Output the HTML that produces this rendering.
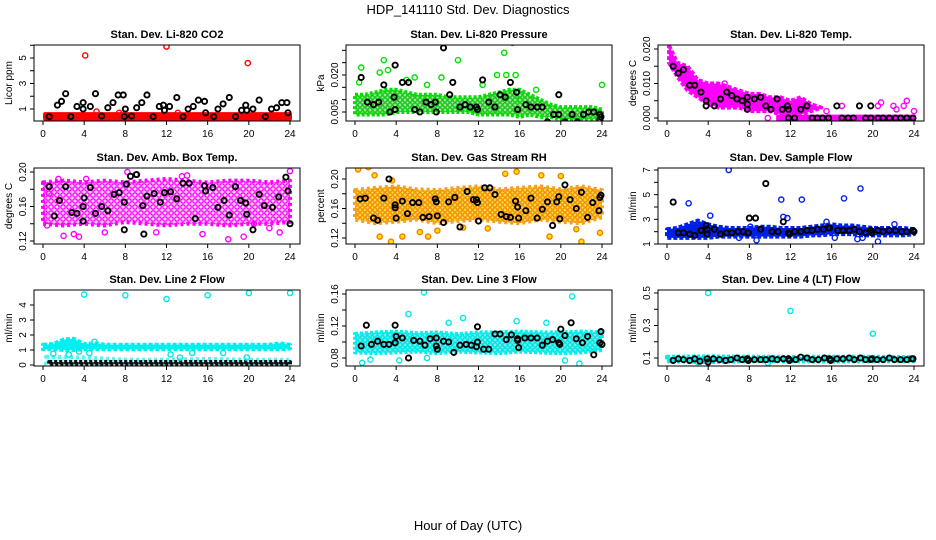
<!DOCTYPE html>
<html><head><meta charset="utf-8"><style>
html,body{margin:0;padding:0;background:#fff;}
svg{display:block;font-family:"Liberation Sans",sans-serif;}
</style></head><body>
<svg id="chart" width="936" height="540" viewBox="0 0 936 540" xmlns="http://www.w3.org/2000/svg">
<defs>
<pattern id="pat-green" width="5" height="5" patternUnits="userSpaceOnUse"><rect width="5" height="5" fill="#9ef09e"/><circle cx="2.5" cy="2.5" r="1.8" fill="none" stroke="#10c010" stroke-width="1.3"/></pattern>
<pattern id="pat-mag" width="6" height="6" patternUnits="userSpaceOnUse"><rect width="6" height="6" fill="#fbd0fb"/><circle cx="3" cy="3" r="2.2" fill="none" stroke="#f0f" stroke-width="1.3"/></pattern>
<pattern id="pat-org" width="5" height="5" patternUnits="userSpaceOnUse"><rect width="5" height="5" fill="#ffe040"/><circle cx="2.5" cy="2.5" r="1.8" fill="none" stroke="#f08000" stroke-width="1.2"/></pattern>
<pattern id="pat-cyan" width="5" height="5" patternUnits="userSpaceOnUse"><rect width="5" height="5" fill="#70f4f4"/><circle cx="2.5" cy="2.5" r="1.8" fill="none" stroke="#00e0e0" stroke-width="1.3"/></pattern>
</defs>
<text x="468" y="14" text-anchor="middle" font-size="13">HDP_141110  Std. Dev. Diagnostics</text>
<text x="468" y="530" text-anchor="middle" font-size="13">Hour of Day (UTC)</text>
</svg>
<script>
const xTickLabels=[0,4,8,12,16,20,24];
// Panel 1 CO2
const co2BandHours=[0.2,24];const co2BandLow=[0.25,0.25];const co2BandHigh=[0.6,0.6];
const co2BlackX=[0.6,1.4,1.8,2.2,2.7,3.3,3.9,3.9,4.6,5.1,5.7,6.3,6.8,7.3,7.8,7.9,8.0,8.6,9.1,9.6,10.1,10.7,11.3,11.7,11.8,12.3,13.0,13.6,14.1,14.6,15.1,15.7,15.8,16.6,17.0,17.5,18.1,18.7,19.3,19.7,19.8,20.4,21.0,21.6,22.2,22.7,23.2,23.7,23.8];
const co2BlackY=[0.4,1.3,1.6,2.2,0.4,1.2,1.5,1.0,1.2,2.2,0.45,1.1,1.5,2.1,2.1,0.4,1.0,0.45,1.1,1.5,2.1,0.4,1.2,1.3,0.9,1.2,1.9,0.4,1.0,1.2,1.7,1.6,0.7,0.4,1.0,1.4,1.9,0.4,0.9,1.3,0.9,1.0,1.7,0.4,1.0,1.1,1.5,1.5,0.7];
const co2RedX=[4.1,12.0,19.9,5.2,7.4,13.1];const co2RedY=[5.2,5.9,4.6,0.8,0.7,0.7];
// Panel 2 pressure
const presBandHours=[0,1,2,3,4,5,6,7,8,9,10,11,12,13,14,15,16,17,18,19,20,21,22,23,24];
const presBandLow=[0.004,0.004,0.004,0.004,0.005,0.005,0.005,0.005,0.005,0.005,0.005,0.005,0.004,0.004,0.004,0.004,0.003,0.004,0.003,0.003,0.002,0.002,0.002,0.002,0.003];
const presBandHigh=[0.012,0.012,0.013,0.014,0.014,0.013,0.012,0.012,0.012,0.011,0.011,0.011,0.011,0.012,0.013,0.014,0.014,0.012,0.010,0.008,0.007,0.007,0.007,0.007,0.006];
const presGreenX=[0.4,0.6,2.8,2.4,3.2,5.8,8.4,10.0,12.4,13.8,14.5,14.7,15.3,15.6,16.0,24.0,17.6,7.0,5.0];
const presGreenY=[0.017,0.023,0.026,0.021,0.022,0.019,0.019,0.026,0.016,0.02,0.029,0.02,0.033,0.02,0.01,0.016,0.014,0.016,0.018];
const presBlackX=[0.6,1.2,1.8,2.3,2.8,3.4,3.9,3.8,3.9,4.6,5.2,5.8,6.3,6.9,7.4,7.8,7.9,8.6,9.2,9.5,10.2,10.7,11.2,11.8,11.9,12.4,13.0,13.6,14.1,14.6,15.1,15.7,15.8,16.6,17.1,17.7,18.2,18.7,19.3,19.8,19.8,20.4,21.1,21.6,22.2,22.7,23.2,23.8,23.9,23.8];
const presBlackY=[0.019,0.009,0.008,0.009,0.016,0.005,0.024,0.011,0.006,0.017,0.017,0.006,0.005,0.009,0.008,0.009,0.005,0.031,0.012,0.017,0.007,0.008,0.007,0.007,0.006,0.018,0.009,0.007,0.012,0.011,0.017,0.013,0.006,0.008,0.007,0.007,0.007,0.001,0.004,0.004,0.012,0.001,0.004,0.001,0.004,0.005,0.005,0.004,0.003,0.002];
// Panel 3 temp
const tempBandHours=[0.2,1,2,3,4,5,6,7,8,9,10,11,12,13,14,15];
const tempBandLow=[0.016,0.012,0.008,0.006,0.004,0.003,0.003,0.003,0.002,0.002,0.002,0.001,0.001,0.001,0.002,0.003];
const tempBandHigh=[0.021,0.016,0.015,0.011,0.010,0.010,0.009,0.008,0.007,0.007,0.006,0.006,0.005,0.006,0.004,0.003];
const tempZeroHours=[10.8,24];const tempZeroLow=[-0.0004,-0.0004];const tempZeroHigh=[0.0004,0.0004];
const tempMagX=[9.8,17.0,20.5,20.8,22.0,22.3,23.3,23.0,24.0,15.5,5.6];const tempMagY=[0,0.0035,0.0035,0.0045,0.0035,0.0025,0.005,0.0035,0.002,0.002,0.01];
const tempBlackX=[0.6,1.1,1.6,2.2,2.7,3.3,3.8,3.8,4.6,5.2,5.8,6.3,6.8,7.3,7.8,7.8,7.8,8.5,9.1,9.6,10.1,10.7,11.2,11.7,11.8,11.8,12.4,13.0,13.6,14.1,14.6,15.1,15.7,16.5,17.0,17.6,18.1,18.7,19.3,19.8,19.8,20.5,21.0,21.6,22.2,22.7,23.3,23.9];
const tempBlackY=[0.015,0.013,0.014,0.0095,0.0095,0.0075,0.005,0.0035,0.0035,0.0055,0.0075,0.0065,0.0055,0.005,0.006,0.004,0.0025,0.0055,0.006,0.0035,0.0025,0.0055,0.0025,0.0035,0.0025,0,0,0.0025,0.0035,0,0,0,0,0.0035,0,0,0,0.0035,0,0.0035,0,0,0,0,0,0,0,0];
// Panel 4 amb box temp
const ambBandHours=[0,2,4,6,8,10,12,14,16,18,20,22,24];
const ambBandLow=[0.14,0.138,0.14,0.138,0.142,0.14,0.138,0.14,0.14,0.138,0.14,0.14,0.142];
const ambBandHigh=[0.188,0.19,0.188,0.19,0.188,0.19,0.192,0.19,0.188,0.19,0.19,0.188,0.19];
const ambMagX=[0.4,0.6,3.0,2.0,3.5,6.0,8.2,11.0,13.5,15.5,18.0,19.5,20.5,23.0,24.0,4.2,9.0,14.0,22.0,1.5];
const ambMagY=[0.138,0.175,0.128,0.126,0.125,0.13,0.2,0.13,0.195,0.128,0.122,0.125,0.14,0.13,0.201,0.192,0.197,0.196,0.135,0.192];
const ambBlackX=[0.6,1.1,1.6,2.2,2.8,3.3,3.9,4.0,3.9,4.6,5.1,5.7,6.3,6.9,7.4,7.9,7.9,8.1,8.5,9.1,9.7,9.8,10.1,10.8,11.4,11.8,12.4,13.0,13.6,14.2,14.8,15.7,15.8,16.5,17.0,17.6,18.1,18.7,19.2,19.7,19.8,20.4,21.0,21.5,22.3,22.9,23.6,23.8,24.0];
const ambBlackY=[0.183,0.149,0.167,0.183,0.153,0.152,0.143,0.17,0.16,0.182,0.152,0.16,0.155,0.174,0.176,0.133,0.165,0.186,0.195,0.197,0.161,0.128,0.172,0.175,0.165,0.176,0.177,0.169,0.187,0.187,0.146,0.184,0.178,0.182,0.159,0.167,0.15,0.183,0.167,0.164,0.151,0.133,0.174,0.161,0.159,0.171,0.194,0.178,0.14];
// Panel 5 RH
const rhBandHours=[0,2,4,6,8,10,12,14,16,18,20,22,24];
const rhBandLow=[0.145,0.14,0.142,0.145,0.14,0.143,0.145,0.142,0.14,0.145,0.142,0.14,0.148];
const rhBandHigh=[0.185,0.188,0.19,0.186,0.185,0.188,0.19,0.186,0.188,0.19,0.186,0.19,0.185];
const rhOrgX=[0.3,1.3,1.9,3.5,4.6,6.3,8.0,10.5,14.6,15.7,18.1,18.9,20.0,21.5,22.0,23.8,2.4,12.9,3.6,7.1];
const rhOrgY=[0.213,0.216,0.205,0.115,0.122,0.128,0.13,0.134,0.207,0.21,0.205,0.122,0.204,0.132,0.115,0.127,0.122,0.133,0.198,0.122];
const rhBlackX=[0.5,1.0,1.8,2.2,2.8,3.3,3.9,3.9,4.0,4.6,5.1,5.6,6.2,6.6,7.2,7.8,7.9,8.0,8.6,9.1,9.7,10.2,10.9,11.5,11.8,11.9,12.0,12.6,13.1,13.6,14.2,14.7,15.1,15.6,15.8,15.9,16.6,17.1,17.7,18.2,18.7,19.2,19.6,19.8,19.9,20.4,20.9,21.5,22.0,22.6,23.1,23.7,23.8,23.9];
const rhBlackY=[0.173,0.174,0.147,0.144,0.174,0.2,0.165,0.161,0.147,0.17,0.153,0.168,0.168,0.148,0.149,0.173,0.169,0.15,0.141,0.169,0.175,0.135,0.183,0.172,0.172,0.168,0.143,0.188,0.188,0.179,0.152,0.149,0.148,0.17,0.162,0.147,0.157,0.174,0.147,0.159,0.169,0.137,0.169,0.176,0.146,0.192,0.172,0.16,0.182,0.148,0.168,0.157,0.175,0.178];
// Panel 6 sample flow
const sfBandHours=[0,1,2,3,4,5,6,7,8,9,10,11,12,13,14,15,16,17,18,19,20,21,22,23,24];
const sfBandLow=[1.5,1.5,1.5,1.5,1.5,1.6,1.6,1.6,1.6,1.6,1.6,1.6,1.6,1.6,1.7,1.7,1.8,1.8,1.8,1.7,1.7,1.7,1.7,1.7,1.8];
const sfBandHigh=[2.2,2.3,2.6,2.9,2.6,2.4,2.3,2.3,2.3,2.4,2.4,2.3,2.3,2.3,2.4,2.5,2.6,2.5,2.5,2.4,2.3,2.3,2.3,2.3,2.2];
const sfBlueX=[2.1,4.2,6.0,8.1,8.7,11.1,11.3,11.7,13.1,17.2,18.8,20.5,22.1,19.0,7.0,15.5,16.3,18.5];
const sfBlueY=[4.3,3.3,7.0,2.4,1.3,4.6,3.2,3.1,4.6,4.7,5.5,1.2,2.6,1.5,1.5,2.8,1.5,1.4];
const sfBlackX=[0.6,1.1,1.6,2.2,2.7,3.3,3.8,3.9,3.9,4.6,5.2,5.8,6.3,6.9,7.4,7.9,8.0,8.6,9.1,9.6,10.2,10.8,11.3,11.8,11.9,12.4,13.0,13.6,14.1,14.6,15.2,15.7,15.8,16.6,17.1,17.7,18.2,18.7,19.3,19.8,19.9,20.5,21.0,21.6,22.2,22.8,23.3,23.9,24.0];
const sfBlackY=[4.4,1.9,1.9,1.8,1.7,2.1,2.5,2.2,1.8,2.2,1.8,1.9,1.9,2.0,2.0,1.9,3.1,3.1,2.2,5.9,2.0,2.0,2.8,1.9,1.8,2.0,2.0,2.1,2.1,2.2,2.2,2.3,2.3,2.1,2.1,2.1,2.2,2.0,1.9,2.1,1.9,2.1,2.0,2.1,2.1,2.0,2.0,2.1,2.0];
// Panel 7 line 2 flow
const l2BandHours=[0,1,2,3,4,5,6,8,10,12,14,16,18,20,22,23,24];
const l2BandLow=[1.05,1.05,1.0,1.0,1.05,1.05,1.05,1.05,1.05,1.05,1.05,1.05,1.05,1.05,1.05,1.05,1.1];
const l2BandHigh=[1.35,1.4,1.7,1.75,1.4,1.45,1.35,1.35,1.35,1.35,1.35,1.35,1.35,1.35,1.35,1.45,1.35];
const l2LowBandHours=[0.3,4,8,12,16,20,24];const l2LowBandLow=[0.05,0.05,0.05,0.05,0.05,0.05,0.05];const l2LowBandHigh=[0.55,0.5,0.35,0.35,0.4,0.35,0.35];
const l2BlackBandHours=[0.6,24];const l2BlackBandLow=[0.04,0.04];const l2BlackBandHigh=[0.2,0.2];
const l2CyanX=[4.0,8.0,12.0,16.0,20.0,24.0,1.0,2.5,3.5,4.5,5.0,13.3,14.5,17.5,19.8,12.4];
const l2CyanY=[4.7,4.65,4.4,4.65,4.8,4.8,0.75,0.7,0.9,0.8,1.55,0.5,0.8,0.8,0.5,0.7];
// Panel 8 line 3 flow
const l3BandHours=[0,2,4,6,8,10,12,14,16,18,20,22,24];
const l3BandLow=[0.087,0.086,0.087,0.088,0.086,0.088,0.087,0.086,0.088,0.087,0.086,0.087,0.09];
const l3BandHigh=[0.11,0.112,0.113,0.111,0.112,0.11,0.112,0.112,0.113,0.112,0.112,0.113,0.112];
const l3CyanX=[0.7,1.5,5.2,6.7,10.5,15.7,18.6,21.1,21.8,4.3,9.1,7.0,20.4];
const l3CyanY=[0.074,0.078,0.135,0.162,0.13,0.126,0.124,0.157,0.073,0.077,0.124,0.08,0.077];
const l3BlackX=[0.6,1.1,1.6,2.2,2.8,3.3,3.9,3.9,4.0,4.6,5.2,5.7,6.3,6.8,7.3,7.9,7.9,8.0,8.6,9.1,9.6,10.2,10.8,11.3,11.8,11.9,11.9,12.5,13.0,13.6,14.1,14.7,15.2,15.8,15.8,15.9,16.5,17.1,17.7,18.2,18.7,19.2,19.8,19.9,20.0,20.4,21.0,21.5,22.1,22.6,23.2,23.8,23.9,24.0];
const l3BlackY=[0.095,0.121,0.097,0.101,0.097,0.097,0.099,0.121,0.107,0.105,0.08,0.102,0.101,0.096,0.104,0.105,0.095,0.091,0.101,0.1,0.087,0.096,0.097,0.096,0.094,0.119,0.1,0.091,0.091,0.11,0.11,0.103,0.109,0.102,0.104,0.093,0.105,0.105,0.105,0.096,0.101,0.103,0.099,0.097,0.116,0.108,0.124,0.104,0.099,0.107,0.084,0.099,0.113,0.097];
// Panel 9 line 4 flow
const l4BandHours=[0,4,8,12,16,20,24];const l4BandLow=[0.08,0.075,0.08,0.08,0.078,0.08,0.08];const l4BandHigh=[0.108,0.11,0.108,0.107,0.108,0.108,0.105];
const l4CyanX=[4.0,12.0,20.0,3.0,9.8];const l4CyanY=[0.5,0.39,0.25,0.075,0.07];
const l4BlackX=[0.6,1.1,1.6,2.2,2.7,3.2,3.9,4.0,4.5,5.1,5.7,6.2,6.8,7.3,7.8,7.9,8.5,9.1,9.6,10.2,10.7,11.3,11.8,11.9,12.5,13.0,13.6,14.1,14.7,15.3,15.8,15.9,16.5,17.1,17.7,18.2,18.8,19.3,19.8,19.9,20.4,21.0,21.6,22.1,22.7,23.3,23.8,23.9];
const l4BlackY=[0.085,0.095,0.09,0.085,0.095,0.08,0.095,0.075,0.095,0.09,0.085,0.09,0.1,0.09,0.095,0.085,0.09,0.09,0.09,0.095,0.09,0.095,0.095,0.085,0.09,0.105,0.1,0.09,0.09,0.1,0.095,0.085,0.095,0.095,0.1,0.09,0.1,0.09,0.09,0.095,0.09,0.09,0.1,0.09,0.09,0.09,0.095,0.095];

const NS='http://www.w3.org/2000/svg';
const svg=document.getElementById('chart');
function mk(tag,attrs,parent){const e=document.createElementNS(NS,tag);for(const k in attrs)e.setAttribute(k,attrs[k]);(parent||svg).appendChild(e);return e;}
function panel(cfg){
  const g=mk('g',{});
  
  
  const L=cfg.box[0],T=cfg.box[1],R=cfg.box[2],B=cfg.box[3];
  const xs=v=>L+9+(R-L-19)*v/24;
  const ys=v=>cfg.ya[1]+(v-cfg.ya[0])*(cfg.yb[1]-cfg.ya[1])/(cfg.yb[0]-cfg.ya[0]);
  const clip='c'+cfg.name;
  const cp=mk('clipPath',{id:clip},g);mk('rect',{x:L,y:T,width:R-L,height:B-T},cp);
  const plot=mk('g',{'clip-path':'url(#'+clip+')'},g);
  cfg.bands.forEach(b=>{
    let pts=b.h.map((h,i)=>xs(h)+','+ys(b.hi[i]));
    pts=pts.concat(b.h.map((h,i)=>xs(h)+','+ys(b.lo[i])).reverse());
    const p=mk('polygon',{points:pts.join(' '),fill:b.fill,stroke:b.stroke,'stroke-width':4,'stroke-linejoin':'round','stroke-dasharray':b.dash||'none'},plot);
    
    
  });
  cfg.pts.forEach(s=>{
    s.x.forEach((x,i)=>{
      const c=mk('circle',{cx:xs(x),cy:ys(s.y[i]),r:2.6,fill:s.fill||'none',stroke:s.color,'stroke-width':s.color==='#000'?1.9:1.4},plot);
      
      
    });
  });
  const box=mk('rect',{x:L,y:T,width:R-L,height:B-T,fill:'none',stroke:'#000','stroke-width':1},g);
  
  
  xTickLabels.forEach(t=>{
    const x=xs(t);mk('line',{x1:x,y1:B,x2:x,y2:B+4,stroke:'#000'},g);
    const tx=mk('text',{x:x,y:B+16,'text-anchor':'middle','font-size':10},g);tx.textContent=t;
    
    
  });
  cfg.yt.forEach(t=>{const y=ys(t);mk('line',{x1:L-4,y1:y,x2:L,y2:y,stroke:'#000'},g);});
  cfg.yl.forEach(t=>{
    const y=ys(t);const tx=mk('text',{x:L-8,y:y,'text-anchor':'middle','font-size':10,transform:'rotate(-90 '+(L-8)+' '+y+')'},g);
    tx.textContent=t;
    
    
  });
  const tt=mk('text',{x:(L+R)/2,y:T-7,'text-anchor':'middle','font-size':11,'font-weight':'bold'},g);tt.textContent=cfg.title;
  
  
  const yc=(T+B)/2;const yt=mk('text',{x:L-22,y:yc,'text-anchor':'middle','font-size':10,transform:'rotate(-90 '+(L-22)+' '+yc+')'},g);yt.textContent=cfg.ylab;
  
  
}
const C1=[34,300],C2=[346,612],C3=[658,924],R1=[45,121],R2=[168,244],R3=[290,366];
const bx=(c,r)=>[c[0],r[0],c[1],r[1]];
const K='#000';
panel({name:'panel-co2',title:'Stan. Dev. Li-820 CO2',ylab:'Licor ppm',box:bx(C1,R1),ya:[1,109],yb:[5,58],yt:[1,2,3,4,5,6],yl:['1','3','5'],
 bands:[{h:co2BandHours,lo:co2BandLow,hi:co2BandHigh,fill:'#f00',stroke:'#f00'}],
 pts:[{x:co2BlackX,y:co2BlackY,color:K},{x:co2RedX,y:co2RedY,color:'#f00'}]});
panel({name:'panel-pressure',title:'Stan. Dev. Li-820 Pressure',ylab:'kPa',box:bx(C2,R1),ya:[0.005,112],yb:[0.020,75],yt:[0.005,0.010,0.015,0.020,0.025,0.030],yl:['0.005','0.020'],
 bands:[{h:presBandHours,lo:presBandLow,hi:presBandHigh,fill:'url(#pat-green)',stroke:'#00e000',dash:'3 2'}],
 pts:[{x:presGreenX,y:presGreenY,color:'#00e000'},{x:presBlackX,y:presBlackY,color:K}]});
panel({name:'panel-temp',title:'Stan. Dev. Li-820 Temp.',ylab:'degrees C',box:bx(C3,R1),ya:[0,118],yb:[0.020,49],yt:[0,0.005,0.010,0.015,0.020],yl:['0.000','0.010','0.020'],
 bands:[{h:tempBandHours,lo:tempBandLow,hi:tempBandHigh,fill:'#f0f',stroke:'#f0f',dash:'4 2'},{h:tempZeroHours,lo:tempZeroLow,hi:tempZeroHigh,fill:'#f0f',stroke:'#f0f'}],
 pts:[{x:tempMagX,y:tempMagY,color:'#f0f'},{x:tempBlackX,y:tempBlackY,color:K}]});
panel({name:'panel-amb-box',title:'Stan. Dev. Amb. Box Temp.',ylab:'degrees C',box:bx(C1,R2),ya:[0.12,241],yb:[0.20,172],yt:[0.12,0.14,0.16,0.18,0.20],yl:['0.12','0.16','0.20'],
 bands:[{h:ambBandHours,lo:ambBandLow,hi:ambBandHigh,fill:'url(#pat-mag)',stroke:'#f0f',dash:'3 3'}],
 pts:[{x:ambMagX,y:ambMagY,color:'#f0f'},{x:ambBlackX,y:ambBlackY,color:K}]});
panel({name:'panel-rh',title:'Stan. Dev. Gas Stream RH',ylab:'percent',box:bx(C2,R2),ya:[0.12,238],yb:[0.20,179],yt:[0.12,0.14,0.16,0.18,0.20],yl:['0.12','0.16','0.20'],
 bands:[{h:rhBandHours,lo:rhBandLow,hi:rhBandHigh,fill:'url(#pat-org)',stroke:'#f5a020',dash:'3 3'}],
 pts:[{x:rhOrgX,y:rhOrgY,color:'#f08000',fill:'#ffe000'},{x:rhBlackX,y:rhBlackY,color:K}]});
panel({name:'panel-sample-flow',title:'Stan. Dev. Sample Flow',ylab:'ml/min',box:bx(C3,R2),ya:[1,244],yb:[7,170],yt:[1,2,3,4,5,6,7],yl:['1','3','5','7'],
 bands:[{h:sfBandHours,lo:sfBandLow,hi:sfBandHigh,fill:'#0020e0',stroke:'#0020f0',dash:'4 2'}],
 pts:[{x:sfBlueX,y:sfBlueY,color:'#0020f0'},{x:sfBlackX,y:sfBlackY,color:K}]});
panel({name:'panel-line2',title:'Stan. Dev. Line 2 Flow',ylab:'ml/min',box:bx(C1,R3),ya:[0,365],yb:[4,305],yt:[0,1,2,3,4],yl:['0','1','2','3','4'],
 bands:[{h:l2BandHours,lo:l2BandLow,hi:l2BandHigh,fill:'#00f0f0',stroke:'#00f0f0',dash:'4 2'},{h:l2LowBandHours,lo:l2LowBandLow,hi:l2LowBandHigh,fill:'#c0fafa',stroke:'#60f0f0',dash:'3 3'},{h:l2BlackBandHours,lo:l2BlackBandLow,hi:l2BlackBandHigh,fill:'#555',stroke:'#111',dash:'3 2'}],
 pts:[{x:l2CyanX,y:l2CyanY,color:'#00e8e8'}]});
panel({name:'panel-line3',title:'Stan. Dev. Line 3 Flow',ylab:'ml/min',box:bx(C2,R3),ya:[0.08,358],yb:[0.16,294],yt:[0.08,0.10,0.12,0.14,0.16],yl:['0.08','0.12','0.16'],
 bands:[{h:l3BandHours,lo:l3BandLow,hi:l3BandHigh,fill:'url(#pat-cyan)',stroke:'#00f0f0',dash:'3 2'}],
 pts:[{x:l3CyanX,y:l3CyanY,color:'#00e8e8'},{x:l3BlackX,y:l3BlackY,color:K}]});
panel({name:'panel-line4',title:'Stan. Dev. Line 4 (LT) Flow',ylab:'ml/min',box:bx(C3,R3),ya:[0.1,358],yb:[0.5,293],yt:[0.1,0.2,0.3,0.4,0.5],yl:['0.1','0.3','0.5'],
 bands:[{h:l4BandHours,lo:l4BandLow,hi:l4BandHigh,fill:'#00f0f0',stroke:'#00f0f0',dash:'3 2'}],
 pts:[{x:l4CyanX,y:l4CyanY,color:'#00e8e8'},{x:l4BlackX,y:l4BlackY,color:K}]});
</script>
</body></html>
